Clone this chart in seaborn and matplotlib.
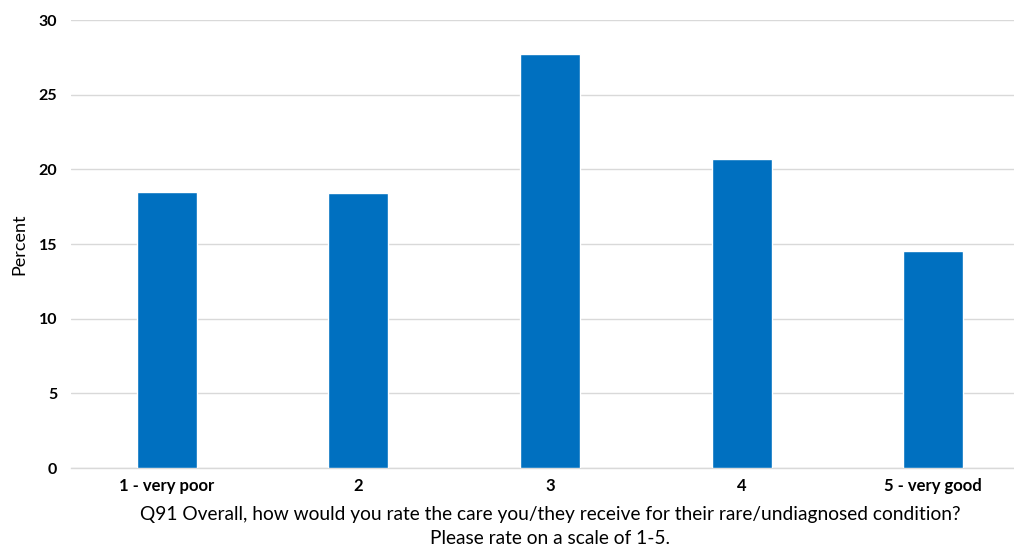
import matplotlib
matplotlib.use("Agg")
import matplotlib.pyplot as plt
import seaborn as sns
import pandas as pd

categories = ["1 - very poor", "2", "3", "4", "5 - very good"]
percent = [18.5, 18.4, 27.7, 20.7, 14.5]
y_ticks = [0, 5, 10, 15, 20, 25, 30]
x_title = "Q91 Overall, how would you rate the care you/they receive for their rare/undiagnosed condition?\nPlease rate on a scale of 1-5."
y_title = "Percent"

sns.set_theme(style="white")
plt.rcParams['font.family'] = ['Lato', 'DejaVu Sans']

df = pd.DataFrame({"cat": categories, "val": percent})

fig = plt.figure(figsize=(10.14, 5.48), dpi=100)
ax = fig.add_axes([71/1014, 1-468/548, 958/1014, 448/548])
sns.barplot(data=df, x="cat", y="val", color="#0070C0", saturation=1,
            width=0.313, ax=ax, zorder=3)
ax.set_ylim(0, 30)
ax.set_yticks(y_ticks)
ax.set_xlim(-0.5, 4.5)
ax.yaxis.grid(True, color="#d9d9d9", linewidth=1, zorder=0)
ax.set_axisbelow(True)
for s in ["top", "right", "left"]:
    ax.spines[s].set_visible(False)
ax.spines["bottom"].set_color("#d9d9d9")
ax.spines["bottom"].set_linewidth(1)
ax.tick_params(axis="both", length=0)
ax.tick_params(axis="x", pad=7)
ax.tick_params(axis="y", pad=10)
for lbl in ax.get_xticklabels():
    lbl.set_fontweight("bold")
    lbl.set_fontsize(12)
    lbl.set_color("#000000")
for lbl in ax.get_yticklabels():
    lbl.set_fontweight("bold")
    lbl.set_fontsize(11.5)
    lbl.set_color("#000000")
ax.set_xlabel(x_title, fontsize=13.8, color="#000000", linespacing=1.45, labelpad=9)
ax.set_ylabel(y_title, fontsize=13, color="#000000", labelpad=8)

fig.savefig("out.png", dpi=100)
